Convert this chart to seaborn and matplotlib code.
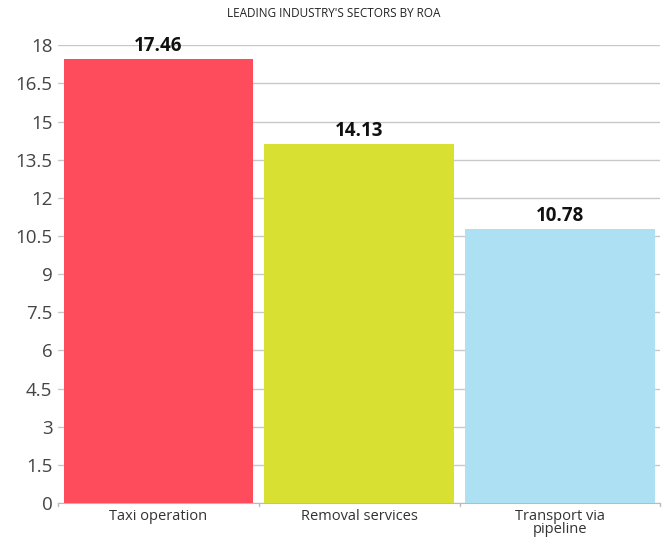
import matplotlib
matplotlib.use("Agg")
import matplotlib.pyplot as plt
import seaborn as sns
import pandas as pd

# Dữ liệu ROA theo ngành
sectors = ["Taxi operation", "Removal services", "Transport via\npipeline"]
roa = [17.46, 14.13, 10.78]
bar_colors = ["#FF4C5C", "#D8E032", "#ACE0F2"]
y_ticks = [0, 1.5, 3, 4.5, 6, 7.5, 9, 10.5, 12, 13.5, 15, 16.5, 18]
y_tick_labels = ["0", "1.5", "3", "4.5", "6", "7.5", "9", "10.5", "12", "13.5", "15", "16.5", "18"]

df = pd.DataFrame({"Sector": sectors, "ROA": roa})

sns.set_style("white")
plt.rcParams["font.family"] = ["Open Sans", "DejaVu Sans"]

fig = plt.figure(figsize=(6.67, 5.45), dpi=100)
ax = fig.add_axes([0.087, 0.077, 0.903, 0.84])

sns.barplot(data=df, x="Sector", y="ROA", hue="Sector", palette=bar_colors,
            width=0.945, legend=False, ax=ax, saturation=1, zorder=3,
            linewidth=0)

ax.set_ylim(0, 18)
ax.set_xlim(-0.5, 2.5)
ax.set_yticks(y_ticks)
ax.set_yticklabels(y_tick_labels, fontsize=13.5, color="#444444")
ax.yaxis.grid(True, color="#c8c8c8", linewidth=1, zorder=0)
ax.tick_params(axis="y", length=0, pad=4)
ax.tick_params(axis="x", labelsize=10.5, colors="#333333", length=0, pad=4)
for lbl in ax.get_xticklabels():
    lbl.set_linespacing(0.9)

# vạch chia giữa các nhóm
for xb in [-0.5, 0.5, 1.5, 2.5]:
    ax.plot([xb, xb], [0, -0.12], color="#bbbbbb", linewidth=1, clip_on=False)

for side in ["top", "right", "left"]:
    ax.spines[side].set_visible(False)
ax.spines["bottom"].set_color("#bbbbbb")
ax.set_xlabel("")
ax.set_ylabel("")

for i, v in enumerate(roa):
    ax.text(i, v + 0.1, f"{v:.2f}", ha="center", va="bottom",
            fontsize=13.5, fontweight="bold", color="#111111")

fig.text(0.5, 0.975, "LEADING INDUSTRY'S SECTORS BY ROA", ha="center", va="center",
         fontsize=8.5, color="#222222")

fig.savefig("out.png", dpi=100)
